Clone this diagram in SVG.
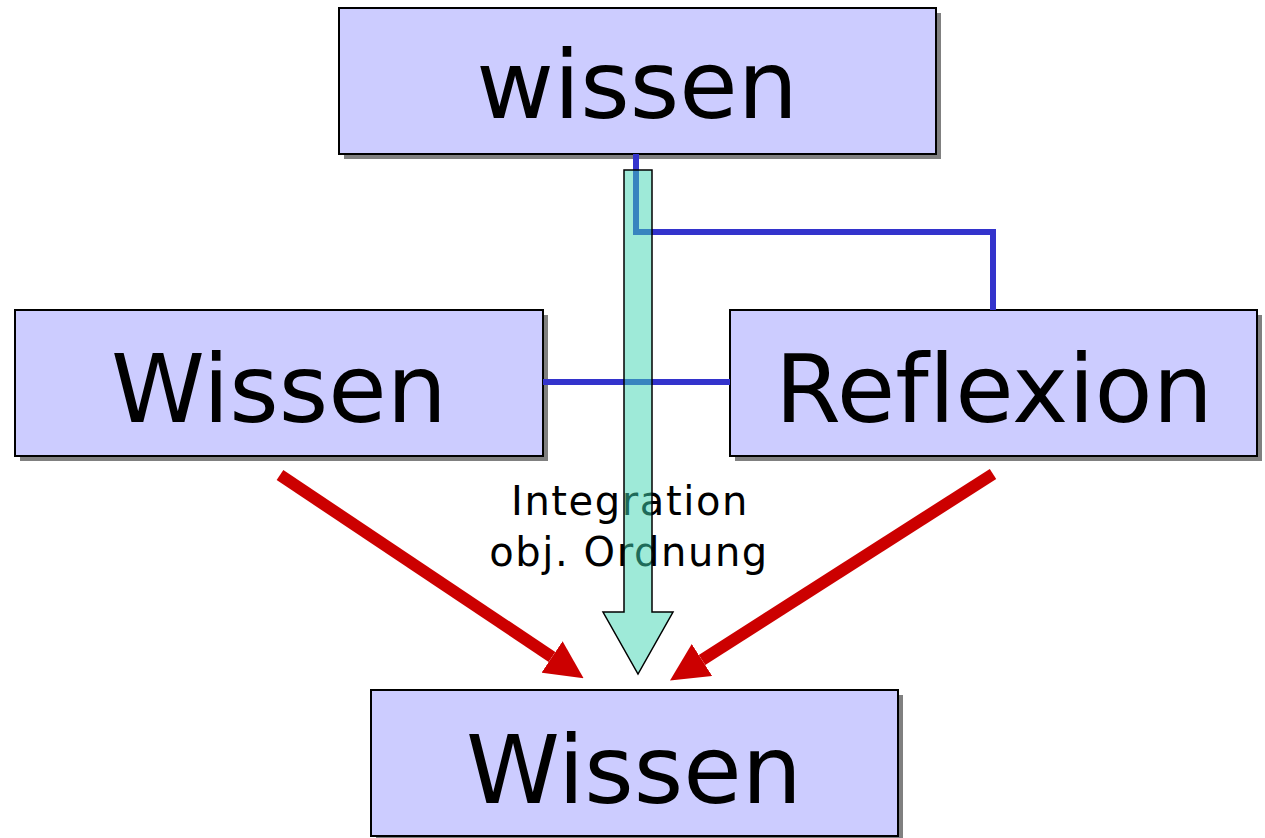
<svg xmlns="http://www.w3.org/2000/svg" width="1265" height="838" viewBox="0 0 1265 838">
<style>
.shadow{fill:#808080}
.box{fill:#ccccff;stroke:#000;stroke-width:2}
.big{font-family:"DejaVu Sans",Verdana,sans-serif;font-size:95px;fill:#000;text-anchor:middle;font-variant-ligatures:none}
.lbl{font-family:"DejaVu Sans",Verdana,sans-serif;font-size:40px;letter-spacing:1.6px;fill:#000;text-anchor:middle}
.blue{fill:none;stroke:#3333cc;stroke-width:6}
.red{stroke:#cc0000;stroke-width:12;fill:none}
.teal{fill:#3dd5b1;fill-opacity:0.5;stroke:#000;stroke-width:1.5}
</style>
<defs>
<marker id="redhead" markerUnits="userSpaceOnUse" viewBox="0 0 38 38" markerWidth="38" markerHeight="38" refX="0" refY="19" orient="auto">
<path d="M0,0 L38,19 L0,38 Z" fill="#cc0000"/>
</marker>
</defs>
<rect width="1265" height="838" fill="#fff"/>
<g id="node-top">
<rect class="shadow" x="344" y="13" width="597" height="146"/>
<rect class="box" x="339" y="8" width="597" height="146"/>
<text class="big" x="637" y="118">wissen</text>
</g>
<g id="node-left">
<rect class="shadow" x="20" y="315" width="528" height="146"/>
<rect class="box" x="15" y="310" width="528" height="146"/>
<text class="big" x="279" y="422">Wissen</text>
</g>
<g id="node-right">
<rect class="shadow" x="735" y="315" width="527" height="146"/>
<rect class="box" x="730" y="310" width="527" height="146"/>
<text class="big" x="994" y="422">Reflexion</text>
</g>
<g id="node-bottom">
<rect class="shadow" x="376" y="695" width="527" height="146"/>
<rect class="box" x="371" y="690" width="527" height="146"/>
<text class="big" x="634" y="803">Wissen</text>
</g>
<g id="label">
<text class="lbl" x="630" y="515">Integration</text>
<text class="lbl" x="629" y="566">obj. Ordnung</text>
</g>
<g id="connectors">
<path class="blue" d="M636,154 V232 H993 V310"/>
<path class="blue" d="M543,382 H730"/>
<line class="red" x1="280" y1="475" x2="552" y2="657" marker-end="url(#redhead)"/>
<line class="red" x1="993" y1="474" x2="702" y2="660" marker-end="url(#redhead)"/>
<path class="teal" d="M624,170 H652 V612 H673 L638,674 L603,612 H624 Z"/>
</g>
</svg>
